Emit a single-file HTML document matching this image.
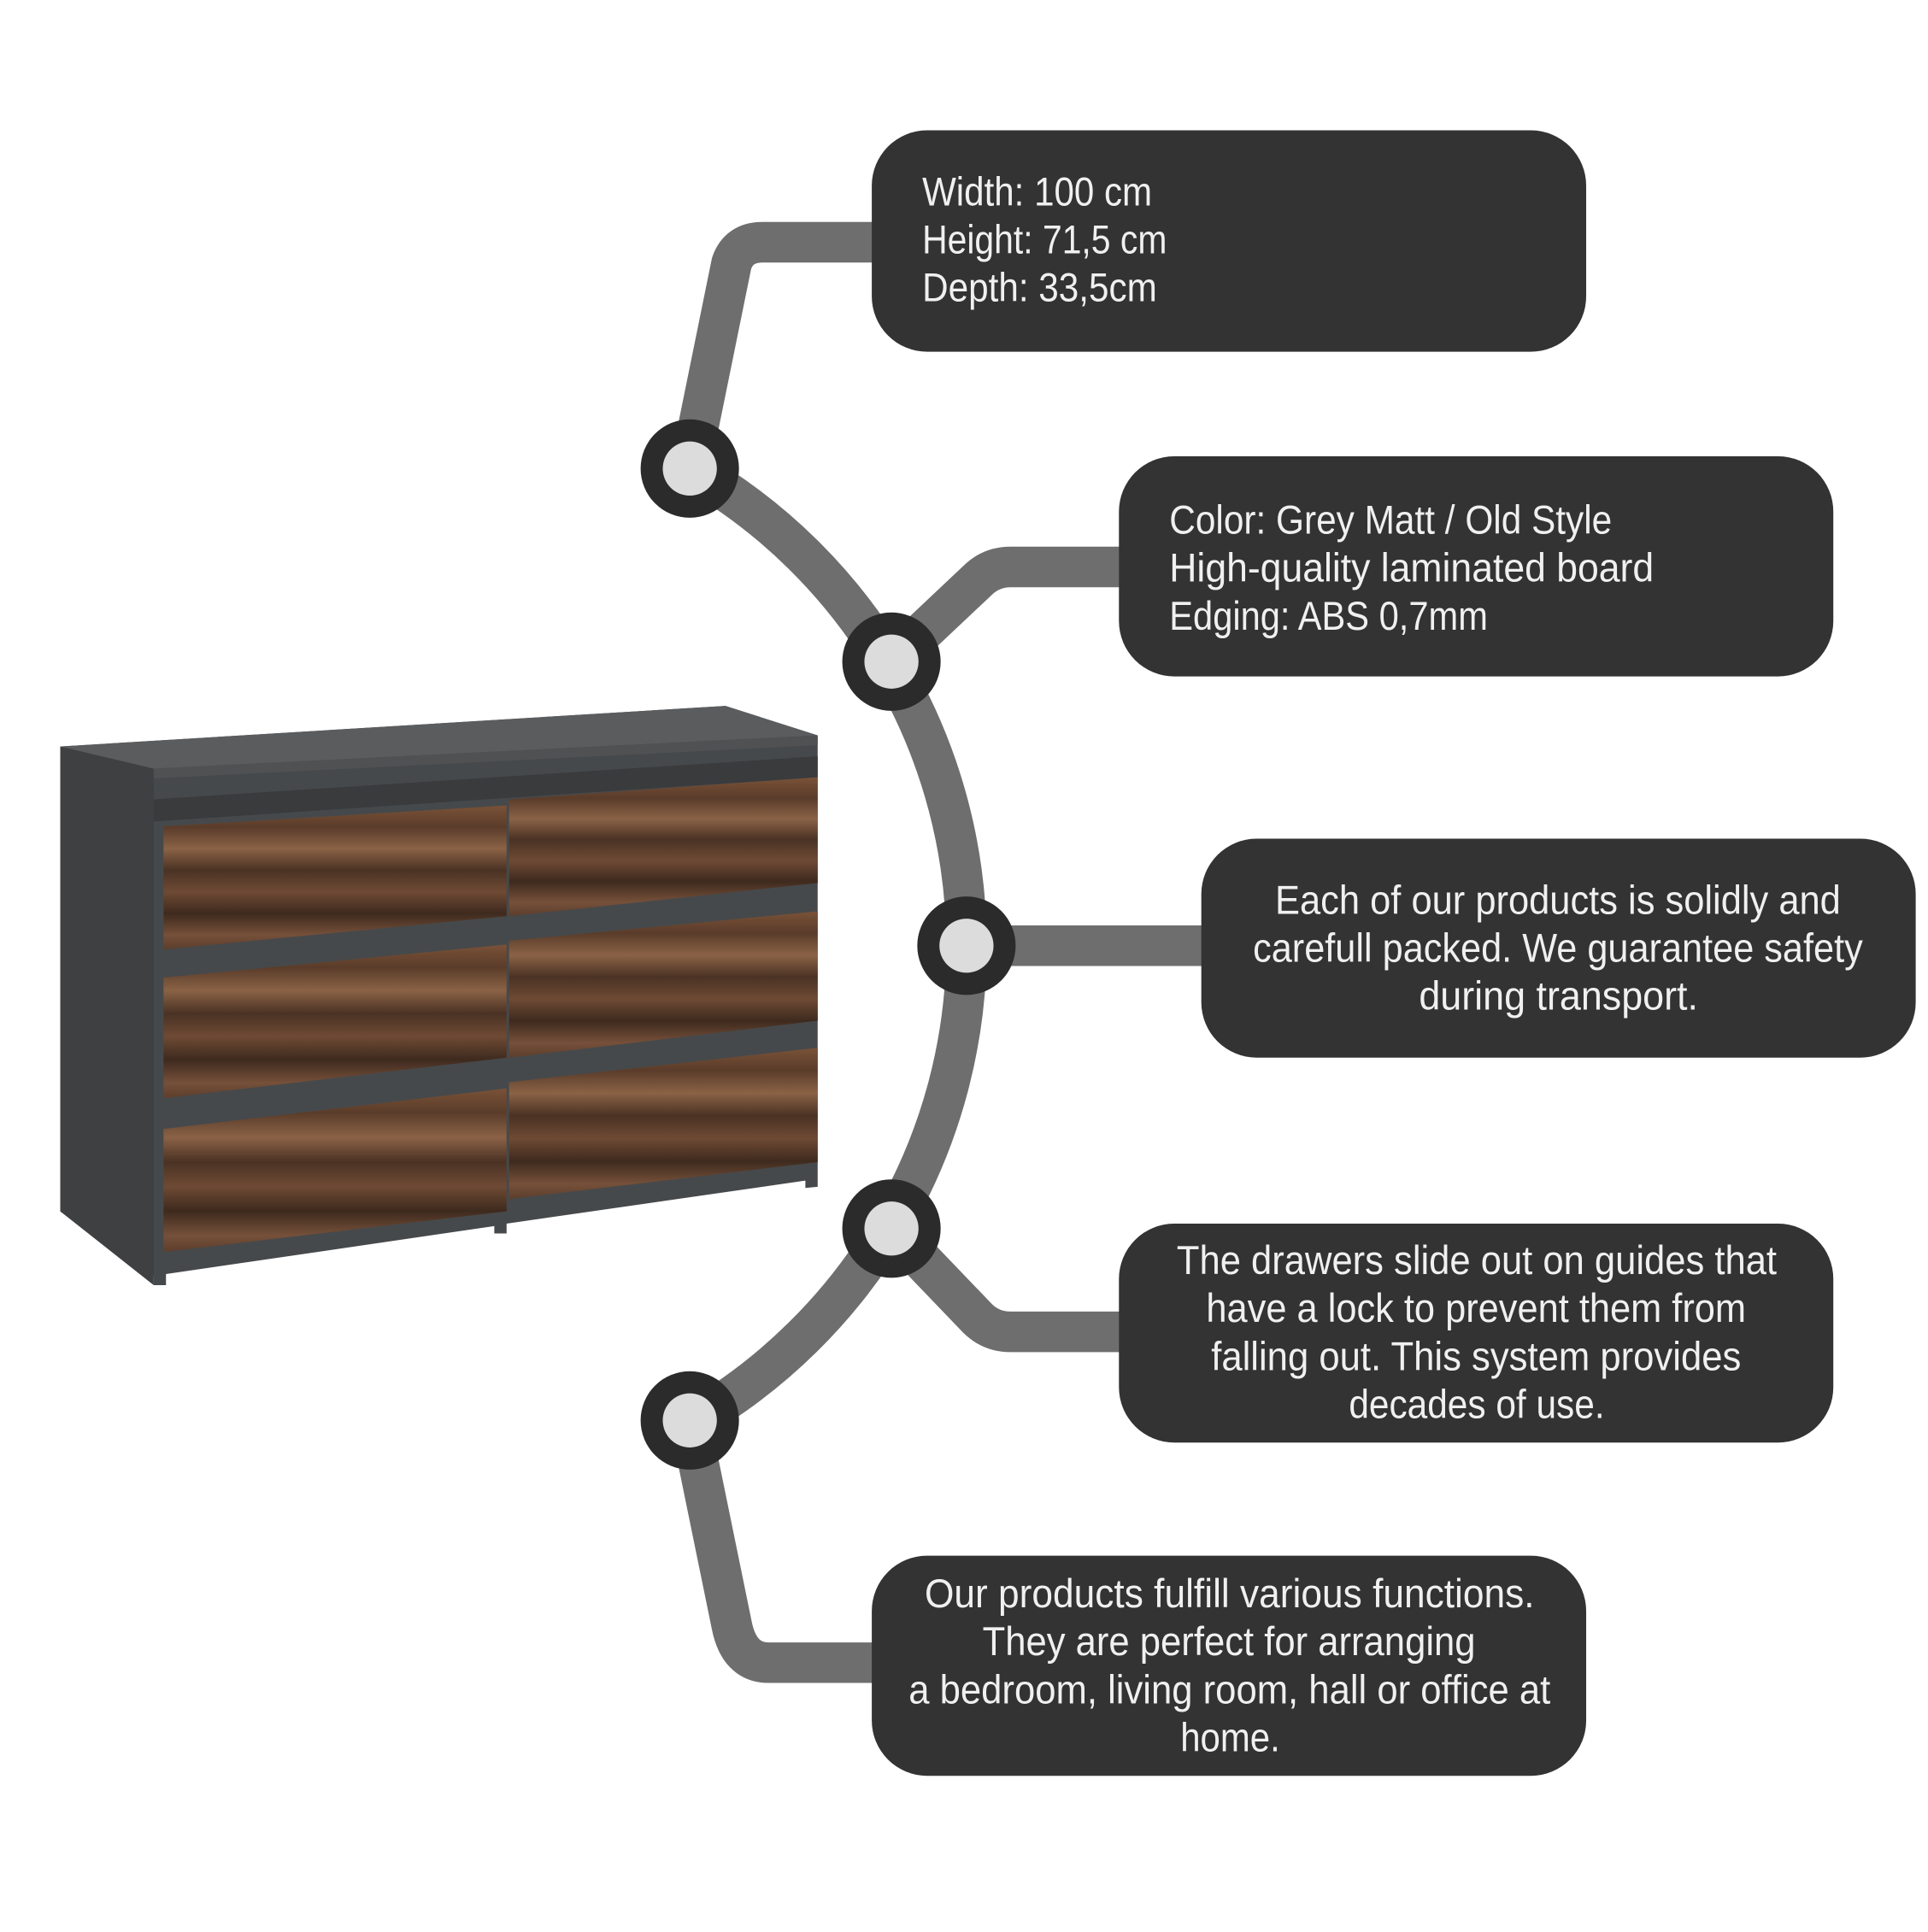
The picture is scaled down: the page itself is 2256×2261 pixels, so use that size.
<!DOCTYPE html>
<html><head><meta charset="utf-8"><style>
html,body{margin:0;padding:0;background:#fff;}
svg{display:block}
text{font-family:"Liberation Sans Narrow","Liberation Sans",sans-serif;fill:#f0f0f0;font-size:33px;}
</style></head><body>
<svg width="2256" height="2261" viewBox="0 0 1568 1571" preserveAspectRatio="none" xmlns="http://www.w3.org/2000/svg">
<defs>
<linearGradient id="wood" x1="0" y1="0" x2="0" y2="1">
<stop offset="0" stop-color="#7a5238"/><stop offset="0.15" stop-color="#5a3c2a"/>
<stop offset="0.3" stop-color="#8a6246"/><stop offset="0.45" stop-color="#4a3224"/>
<stop offset="0.6" stop-color="#6e4a34"/><stop offset="0.75" stop-color="#3e2a1e"/>
<stop offset="0.9" stop-color="#76503a"/><stop offset="1" stop-color="#5c3e2c"/>
</linearGradient>
</defs>
<g fill="none" stroke="#6e6e6e" stroke-width="33" stroke-linejoin="round" stroke-linecap="butt">
<path d="M561,381 A447,447 0 0 1 561,1157"/>
<path d="M561,381 L595,214 Q601,197 620,197 L712,197"/>
<path d="M725,538 L795,472 Q806,461 822,461 L912,461"/>
<path d="M786,769 L980,769"/>
<path d="M725,999 L795,1072 Q806,1083 822,1083 L912,1083"/>
<path d="M561,1155 L595,1321 Q601,1352 625,1352 L712,1352"/>
</g>
<g fill="#333333">
<rect x="709" y="106" width="581" height="180" rx="45"/>
<rect x="910" y="371" width="581" height="179" rx="45"/>
<rect x="977" y="682" width="581" height="178" rx="45"/>
<rect x="910" y="995" width="581" height="178" rx="45"/>
<rect x="709" y="1265" width="581" height="179" rx="45"/>
</g>
<g>
<circle cx="561" cy="381" r="40" fill="#2b2b2b"/><circle cx="561" cy="381" r="22" fill="#dcdcdc"/>
<circle cx="725" cy="538" r="40" fill="#2b2b2b"/><circle cx="725" cy="538" r="22" fill="#dcdcdc"/>
<circle cx="786" cy="769" r="40" fill="#2b2b2b"/><circle cx="786" cy="769" r="22" fill="#dcdcdc"/>
<circle cx="725" cy="999" r="40" fill="#2b2b2b"/><circle cx="725" cy="999" r="22" fill="#dcdcdc"/>
<circle cx="561" cy="1155" r="40" fill="#2b2b2b"/><circle cx="561" cy="1155" r="22" fill="#dcdcdc"/>
</g>
<g lengthAdjust="spacingAndGlyphs">
<text x="750" y="167" textLength="187" lengthAdjust="spacingAndGlyphs">Width: 100 cm</text>
<text x="750" y="206" textLength="199" lengthAdjust="spacingAndGlyphs">Height: 71,5 cm</text>
<text x="750" y="245" textLength="191" lengthAdjust="spacingAndGlyphs">Depth: 33,5cm</text>
<text x="951" y="434" textLength="360" lengthAdjust="spacingAndGlyphs">Color: Grey Matt / Old Style</text>
<text x="951" y="473" textLength="394" lengthAdjust="spacingAndGlyphs">High-quality laminated board</text>
<text x="951" y="512" textLength="259" lengthAdjust="spacingAndGlyphs">Edging: ABS 0,7mm</text>
<text x="1037" y="743" textLength="460" lengthAdjust="spacingAndGlyphs">Each of our products is solidly and</text>
<text x="1019" y="782" textLength="496" lengthAdjust="spacingAndGlyphs">carefull packed. We guarantee safety</text>
<text x="1154" y="821" textLength="227" lengthAdjust="spacingAndGlyphs">during transport.</text>
<text x="957" y="1036" textLength="488" lengthAdjust="spacingAndGlyphs">The drawers slide out on guides that</text>
<text x="981" y="1075" textLength="439" lengthAdjust="spacingAndGlyphs">have a lock to prevent them from</text>
<text x="985" y="1114" textLength="431" lengthAdjust="spacingAndGlyphs">falling out. This system provides</text>
<text x="1097" y="1153" textLength="208" lengthAdjust="spacingAndGlyphs">decades of use.</text>
<text x="752" y="1307" textLength="496" lengthAdjust="spacingAndGlyphs">Our products fulfill various functions.</text>
<text x="799" y="1346" textLength="401" lengthAdjust="spacingAndGlyphs">They are perfect for arranging</text>
<text x="739" y="1385" textLength="522" lengthAdjust="spacingAndGlyphs">a bedroom, living room, hall or office at</text>
<text x="960" y="1424" textLength="81" lengthAdjust="spacingAndGlyphs">home.</text>
</g>
<!-- dresser -->
<polygon points="49,607 590,574 665,598 665,965 655,966 655,960 412,995 412,1003 402,1003 402,997 135,1036 135,1045 125,1045 125,1038 49,985" fill="#46494b"/>
<polygon points="49,607 125,620 125,1045 49,985" fill="#3e4042"/>
<polygon points="49,607 590,574 665,598 125,625" fill="#5a5c5e"/>
<polygon points="125,625 665,598 665,606 125,633" fill="#4f5153"/>
<polygon points="125,650 665,615 665,632 125,668" fill="#393b3d"/>
<polygon points="133,672 412,655 412,745 133,772" fill="url(#wood)"/>
<polygon points="133,795 412,768 412,860 133,893" fill="url(#wood)"/>
<polygon points="133,918 412,885 412,985 133,1018" fill="url(#wood)"/>
<polygon points="414,650 665,632 665,718 414,745" fill="url(#wood)"/>
<polygon points="414,765 665,741 665,830 414,860" fill="url(#wood)"/>
<polygon points="414,880 665,852 665,945 414,975" fill="url(#wood)"/>
</svg>
</body></html>
